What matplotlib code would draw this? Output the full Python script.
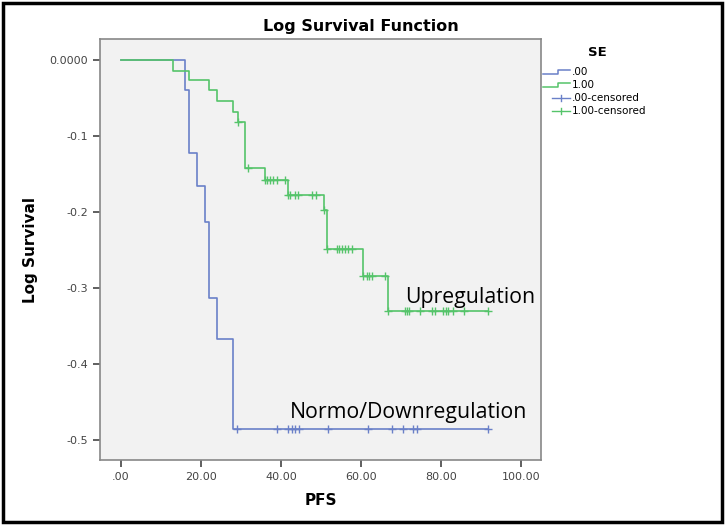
import numpy as np
import matplotlib
matplotlib.use("Agg")
import matplotlib.pyplot as plt
from matplotlib.lines import Line2D
from matplotlib.legend_handler import HandlerBase
from matplotlib.patches import Rectangle

# data
group_labels = [".00", "1.00"]

blue_event_times = [16.0, 17.1, 19.0, 21.0, 22.1, 24.1, 28.1]
blue_log_surv = [-0.039, -0.122, -0.166, -0.213, -0.313, -0.367, -0.485]
blue_cens_times = [28.9, 38.9, 41.8, 42.7, 43.5, 44.6, 51.8, 61.8, 67.8,
                   70.6, 72.9, 73.9, 91.7]

green_event_times = [13.1, 17.1, 22.1, 24.1, 28.1, 29.3, 31.0, 36.0, 41.8,
                     50.8, 51.6, 60.6, 66.8]
green_log_surv = [-0.014, -0.026, -0.040, -0.054, -0.068, -0.082, -0.142,
                  -0.158, -0.177, -0.197, -0.249, -0.284, -0.330]
green_cens_times = [29.3, 31.8, 36.0, 36.4, 37.2, 38.1, 38.9, 41.0, 41.8,
                    42.25, 43.5, 44.2, 47.8, 48.75, 50.8, 51.6, 53.9, 54.6,
                    55.25, 56.0, 56.8, 57.7, 60.6, 61.4, 62.1, 62.7, 66.0,
                    66.8, 71.0, 71.6, 72.1, 74.75, 77.7, 78.5, 80.6, 81.3,
                    81.8, 82.9, 85.7, 91.8]

x_ticks = [0, 20, 40, 60, 80, 100]
x_ticklabels = [".00", "20.00", "40.00", "60.00", "80.00", "100.00"]
y_ticks = [0.0, -0.1, -0.2, -0.3, -0.4, -0.5]
y_ticklabels = ["0.0000", "-0.1", "-0.2", "-0.3", "-0.4", "-0.5"]

BLUE = "#6a80c8"
GREEN = "#55c46a"


def step_curve(ev_t, ev_v, end_t):
    t = [0.0] + list(ev_t) + [end_t]
    v = [0.0] + list(ev_v) + [ev_v[-1]]
    return t, v


def cens_y(ev_t, ev_v, cens_t):
    idx = np.searchsorted(ev_t, cens_t, side="right")
    vals = np.concatenate([[0.0], ev_v])
    return vals[idx]


class StepHandler(HandlerBase):
    def create_artists(self, legend, orig_handle, xdescent, ydescent,
                       width, height, fontsize, trans):
        x0, x1 = -xdescent, -xdescent + width
        xm = x0 + width * 0.55
        ylo = -ydescent + height * 0.2
        yhi = -ydescent + height * 0.75
        ln = Line2D([x0, xm, xm, x1], [ylo, ylo, yhi, yhi],
                    color=orig_handle.get_color(), lw=1.1, transform=trans)
        return [ln]


class CensHandler(HandlerBase):
    def create_artists(self, legend, orig_handle, xdescent, ydescent,
                       width, height, fontsize, trans):
        x0 = -xdescent + width * 0.33
        x1 = -xdescent + width
        xm = (x0 + x1) / 2
        yc = -ydescent + height * 0.45
        c = orig_handle.get_color()
        h = Line2D([x0, x1], [yc, yc], color=c, lw=1.0, transform=trans)
        v = Line2D([xm, xm], [yc - height * 0.45, yc + height * 0.45],
                   color=c, lw=1.0, transform=trans)
        return [h, v]


fig = plt.figure(figsize=(7.26, 5.25), dpi=100)
ax = fig.add_axes([0.1377, 0.1238, 0.6074, 0.8019])
ax.set_facecolor("#f2f2f2")

bt, bv = step_curve(blue_event_times, blue_log_surv, max(blue_cens_times))
gt, gv = step_curve(green_event_times, green_log_surv, max(green_cens_times))
l1, = ax.step(bt, bv, where="post", color=BLUE, lw=1.2)
l2, = ax.step(gt, gv, where="post", color=GREEN, lw=1.2)

m1, = ax.plot(blue_cens_times,
              cens_y(blue_event_times, blue_log_surv, blue_cens_times),
              ls="none", marker="+", ms=6, mew=1.0, color=BLUE)
m2, = ax.plot(green_cens_times,
              cens_y(green_event_times, green_log_surv, green_cens_times),
              ls="none", marker="+", ms=6, mew=1.0, color=GREEN)

ax.set_xlim(-5.25, 105)
ax.set_ylim(-0.526, 0.0276)
ax.set_xticks(x_ticks)
ax.set_xticklabels(x_ticklabels)
ax.set_yticks(y_ticks)
ax.set_yticklabels(y_ticklabels)
ax.tick_params(labelsize=8, colors="#444444", length=5, width=1.2)
for s in ax.spines.values():
    s.set_color("#888888")
    s.set_linewidth(1.2)

ax.set_xlabel("PFS", fontsize=11, fontweight="bold", labelpad=8)
ax.set_ylabel("Log Survival", fontsize=11, fontweight="bold", labelpad=8)
fig.text(361 / 726, 1 - 26 / 525, "Log Survival Function", ha="center",
         va="center", fontsize=11.5, fontweight="bold")

ax.text(71, -0.312, "Upregulation", fontsize=15.3, family="Open Sans",
        va="center", ha="left")
ax.text(42.2, -0.464, "Normo/Downregulation", fontsize=15.3,
        family="Open Sans", va="center", ha="left")

fig.text(597 / 726, 1 - 52 / 525, "SE", ha="center", va="center",
         fontsize=9.5, fontweight="bold")
leg = fig.legend([l1, l2, m1, m2],
                 group_labels + [".00-censored", "1.00-censored"],
                 handler_map={l1: StepHandler(), l2: StepHandler(),
                              m1: CensHandler(), m2: CensHandler()},
                 loc="upper left", bbox_to_anchor=(543 / 726, 1 - 67 / 525),
                 frameon=False, fontsize=7.5, borderpad=0,
                 handlelength=2.6, handletextpad=0.15, labelspacing=0.3,
                 borderaxespad=0)

fig.patches.append(Rectangle((0.004, 0.006), 0.99, 0.988,
                             transform=fig.transFigure, fill=False,
                             edgecolor="black", lw=2.5))

fig.savefig("out.png", dpi=100)
